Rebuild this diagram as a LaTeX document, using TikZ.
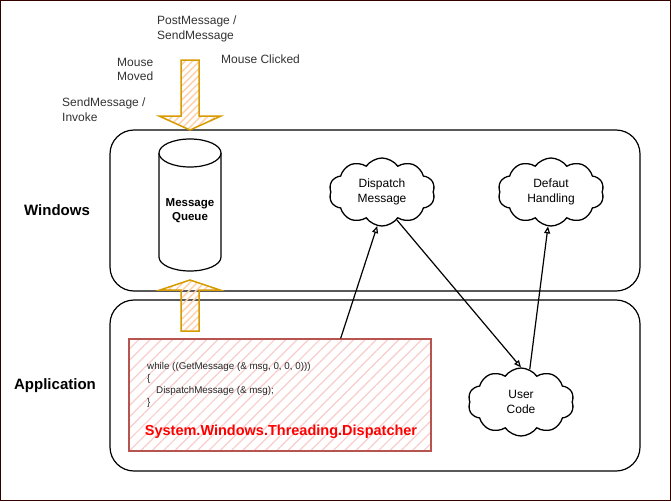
\documentclass[tikz,border=0pt]{standalone}
\usepackage{fontspec}
\setmainfont{Liberation Sans}
\usetikzlibrary{shapes.geometric,shapes.symbols,patterns.meta,arrows.meta,calc}
\definecolor{hatchred}{HTML}{F8CECC}
\definecolor{boxred}{HTML}{B85450}
\definecolor{arrorange}{HTML}{D79B00}
\definecolor{hatchorange}{HTML}{FFD0A8}
\definecolor{txtgray}{HTML}{333333}
\tikzset{
  x=1pt, y=-1pt,
  lane/.style={draw=black, line width=1.2pt, rounded corners=24pt},
  lanelabel/.style={font=\bfseries\fontsize{15}{17}\selectfont, text=black},
  msglabel/.style={font=\fontsize{12}{14.5}\selectfont, text=txtgray, align=left, anchor=north west, inner sep=0pt},
  cloudnode/.style={cloud, cloud puffs=10, cloud puff arc=110, aspect=1.5, draw=black, line width=1.3pt,
     minimum width=106pt, minimum height=68pt, font=\fontsize{12}{14.5}\selectfont, align=center, inner sep=0pt},
  link/.style={draw=black, line width=1.2pt, -{Triangle[open,length=7pt,width=6pt]}},
  blockarrow/.style={draw=arrorange, line width=1.5pt, line join=miter,
     pattern={Lines[angle=45,distance=5pt,line width=1.4pt]}, pattern color=hatchorange},
  cyl/.style={draw=black, line width=1.2pt, fill=white},
}
\begin{document}
\begin{tikzpicture}
\useasboundingbox (0,0) rectangle (671,501);
\fill[white] (0,0) rectangle (671,501);
\draw[draw=black!80!red, line width=1.2pt] (0.6,0.6) rectangle (670.4,500.4);

% lanes
\draw[lane] (110,130) rectangle (640,291);
\draw[lane] (110,300) rectangle (640,471);
\node[lanelabel] (lw) at (57,210) {Windows};
\node[lanelabel] (la) at (55,386) {Application};

% dispatcher box
\node[draw=boxred, line width=2.4pt, minimum width=302pt, minimum height=112pt,
      pattern={Lines[angle=45,distance=8pt,line width=1.2pt]}, pattern color=hatchred,
      inner sep=0pt] (rb) at (280,395) {};
\node[anchor=north west, inner sep=0pt, align=left, text=black!85,
      font=\fontsize{9.8}{12}\selectfont] (code) at (147,362)
  {while ((GetMessage (\& msg, 0, 0, 0)))\\\{\\\hspace*{9pt}DispatchMessage (\& msg);\\\}};
\node[text=red, font=\bfseries\fontsize{14.5}{17}\selectfont, inner sep=0pt] (sys) at (281,432)
  {System.Windows.Threading.Dispatcher};

% message queue cylinder
\draw[cyl] (159,153) -- (159,257) arc[start angle=180, end angle=360, x radius=31pt, y radius=14pt] -- (221,153);
\draw[cyl] (190,153) ellipse [x radius=31pt, y radius=14pt];
\node[align=center, font=\bfseries\fontsize{11.5}{14}\selectfont] (mq) at (190,211) {Message\\Queue};

% block arrows
\draw[blockarrow] (181,60) -- (199,60) -- (199,116) -- (221,116) -- (190,130) -- (159,116) -- (181,116) -- cycle;
\draw[blockarrow] (181,331) -- (181,290) -- (160,290) -- (190,280) -- (220,290) -- (199,290) -- (199,331) -- cycle;

% labels
\node[msglabel] (pm) at (157,16) {PostMessage /\\SendMessage};
\node[msglabel] (mm) at (117,58) {Mouse\\Moved};
\node[msglabel] (mc) at (221,55) {Mouse Clicked};
\node[msglabel] (si) at (62,98) {SendMessage /\\Invoke};

% clouds
\node[cloudnode] (dm) at (382,192) {Dispatch\\Message};
\node[cloudnode] (dh) at (551,192) {Defaut\\Handling};
\node[cloudnode] (uc) at (521,402) {User\\Code};

% connectors
\draw[link] ($(rb.north west)!0.70!(rb.north east)$) -- (dm.262);
\draw[link] (dm.298) -- (uc.north);
\draw[link] (uc.75) -- (dh.265);
\end{tikzpicture}
\end{document}
